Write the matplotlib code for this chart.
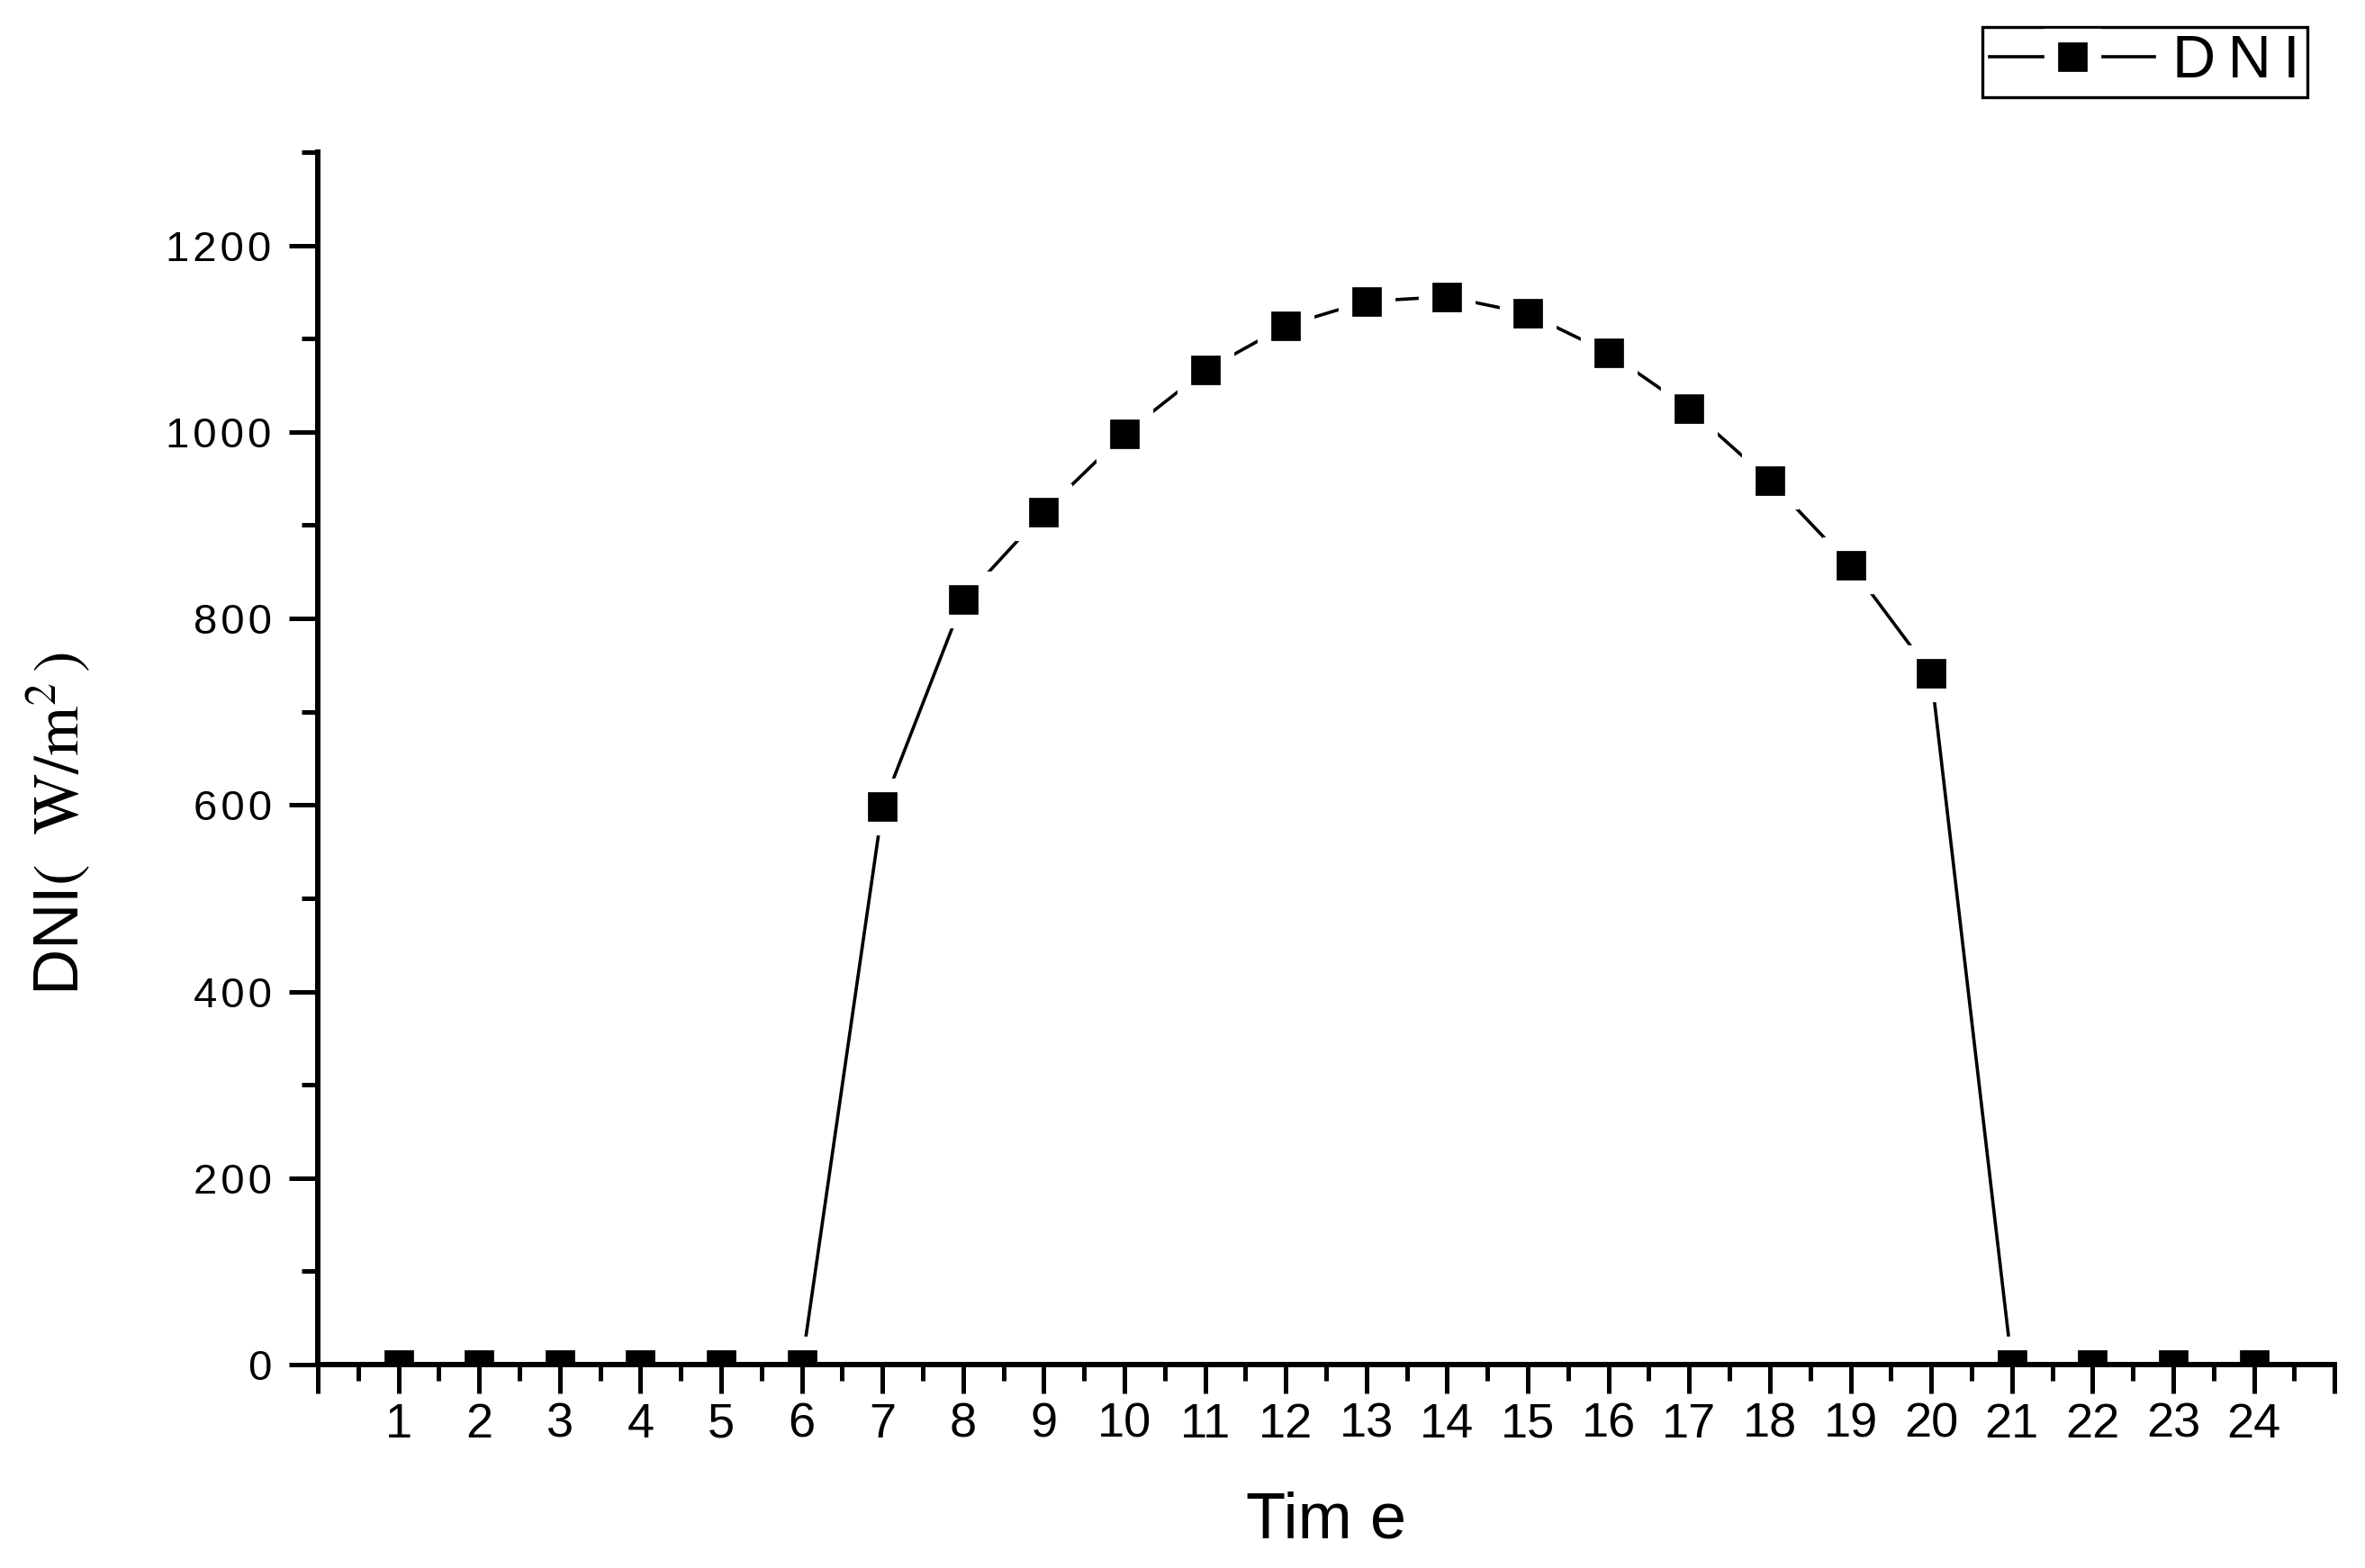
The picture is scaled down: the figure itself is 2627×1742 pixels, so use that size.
import matplotlib
matplotlib.use("Agg")
import matplotlib.pyplot as plt
from matplotlib.ticker import FuncFormatter, MultipleLocator

plt.rcParams.update({
    "font.family": ["Liberation Sans", "DejaVu Sans"],
    "mathtext.fontset": "stix",
})

hours = list(range(1, 25))
dni = [0, 0, 0, 0, 0, 0, 598, 820, 914, 998, 1066, 1114,
       1140, 1145, 1127, 1085, 1025, 948, 857, 741, 0, 0, 0, 0]
xtick_labels = [""] + [str(h) for h in hours] + [""]

NARROW = ["Liberation Sans Narrow", "Liberation Sans", "DejaVu Sans"]

fig = plt.figure(figsize=(26.27, 17.42), dpi=100)
ax = fig.add_axes([0.1344, 0.1297, 0.8527, 0.7733])

ax.plot(hours, dni, color="black", lw=2.6, marker="s", ms=35,
        mfc="black", mec="white", mew=11, label="D\u2009N\u2009I")

ax.set_xlim(0, 25)
ax.set_ylim(0, 1300)

for side in ("top", "right"):
    ax.spines[side].set_visible(False)
for side in ("left", "bottom"):
    ax.spines[side].set_linewidth(4.3)

ax.set_xticks(range(0, 26))
ax.set_xticklabels(xtick_labels, family=NARROW, fontsize=39)
ax.xaxis.set_minor_locator(MultipleLocator(0.5))
ax.yaxis.set_major_locator(MultipleLocator(200))
ax.yaxis.set_minor_locator(MultipleLocator(100))
# the original spreads the digits a little
ax.yaxis.set_major_formatter(FuncFormatter(lambda v, p: "\u200a".join(str(int(v)))))

ax.tick_params(axis="both", which="major", direction="out", length=23, width=3.6)
ax.tick_params(axis="both", which="minor", direction="out", length=13, width=3.6)
ax.tick_params(axis="x", which="major", pad=7)
ax.tick_params(axis="y", which="major", pad=14, labelsize=34)

ax.set_xlabel("Tim e", fontsize=52)
ax.xaxis.set_label_coords(0.5, -0.104)
ax.set_ylabel(r"DNI$(\ \ \mathrm{W/m}^{2}\,)$", fontsize=51)
ax.yaxis.set_label_coords(-0.112, 0.446)

leg = ax.legend(loc="upper right", bbox_to_anchor=(0.9756, 0.9828),
                bbox_transform=fig.transFigure, fontsize=48, numpoints=1,
                handlelength=2.75, handletextpad=0.3, borderpad=0.12,
                borderaxespad=0, fancybox=False, framealpha=1,
                edgecolor="black")
leg.get_frame().set_linewidth(2.4)

fig.savefig("out.png", dpi=100)
